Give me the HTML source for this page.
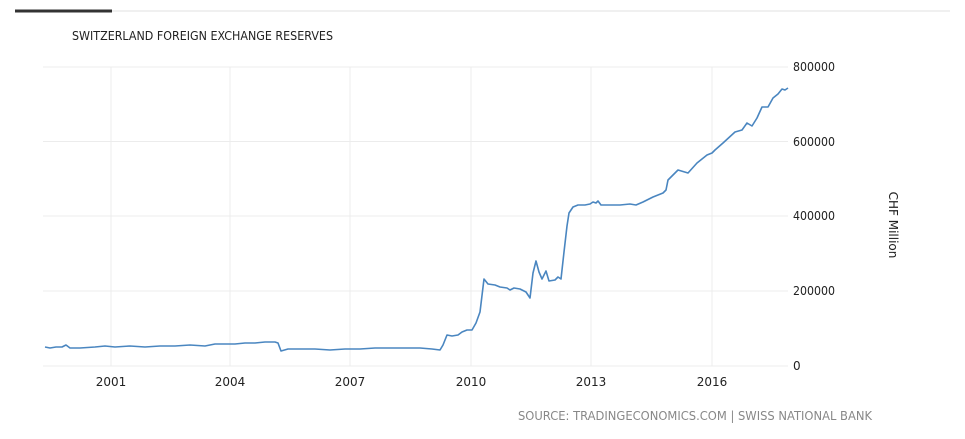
<!DOCTYPE html>
<html><head><style>
body{margin:0;background:#fff;}
svg{display:block;font-family:"DejaVu Sans","Liberation Sans",sans-serif;}
</style></head><body>
<svg width="965" height="439" viewBox="0 0 965 439">
<line x1="15" y1="11" x2="950" y2="11" stroke="#e0e0e0" stroke-width="1"/>
<line x1="15" y1="11" x2="112" y2="11" stroke="#333" stroke-width="3"/>
<text x="72" y="40" font-size="12" fill="#222" textLength="261" lengthAdjust="spacingAndGlyphs">SWITZERLAND FOREIGN EXCHANGE RESERVES</text>
<g stroke="#ececec" stroke-width="1">
<line x1="43" y1="67" x2="788" y2="67"/><line x1="43" y1="141.5" x2="788" y2="141.5"/>
<line x1="43" y1="216" x2="788" y2="216"/><line x1="43" y1="291" x2="788" y2="291"/>
<line x1="43" y1="366" x2="788" y2="366"/>
<line x1="111" y1="67" x2="111" y2="366"/><line x1="230" y1="67" x2="230" y2="366"/>
<line x1="350" y1="67" x2="350" y2="366"/><line x1="471" y1="67" x2="471" y2="366"/>
<line x1="591" y1="67" x2="591" y2="366"/><line x1="712" y1="67" x2="712" y2="366"/>
</g>
<g font-size="12" fill="#222">
<text x="793" y="71" textLength="42" lengthAdjust="spacingAndGlyphs">800000</text><text x="793" y="146" textLength="42" lengthAdjust="spacingAndGlyphs">600000</text>
<text x="793" y="220" textLength="42" lengthAdjust="spacingAndGlyphs">400000</text><text x="793" y="295" textLength="42" lengthAdjust="spacingAndGlyphs">200000</text>
<text x="793" y="370">0</text>
<g text-anchor="middle">
<text x="111" y="386">2001</text><text x="230" y="386">2004</text><text x="350" y="386">2007</text>
<text x="471" y="386">2010</text><text x="591" y="386">2013</text><text x="712" y="386">2016</text>
</g>
<text transform="translate(889,225) rotate(90)" text-anchor="middle">CHF Million</text>
</g>
<text x="518" y="420" font-size="12.5" fill="#888" textLength="354" lengthAdjust="spacingAndGlyphs">SOURCE: TRADINGECONOMICS.COM | SWISS NATIONAL BANK</text>
<polyline fill="none" stroke="#4a86c0" stroke-width="1.6" stroke-linejoin="round" points="
45,347 50,348 56,347 62,347 66,345 70,348 80,348 95,347 105,346 115,347 130,346 145,347 160,346 175,346 190,345 205,346 215,344 225,344 235,344 245,343 255,343 265,342 275,342 278,343 281,351 288,349 300,349 315,349 330,350 345,349 360,349 375,348 390,348 405,348 420,348 432,349 440,350 443,345 447,335 452,336 458,335 462,332 467,330 472,330 476,323 480,312 484,279 488,284 495,285 500,287 507,288 510,290 514,288 520,289 526,292 530,298 533,273 536,261 539,272 542,279 546,271 549,281 555,280 558,277 561,279 564,252 567,226 569,213 573,207 578,205 585,205 590,204 593,202 596,203 598,201 601,205 610,205 620,205 630,204 636,205 643,202 653,197 663,193 666,190 668,180 678,170 688,173 697,163 707,155 712,153 715,150 723,143 735,132 742,130 747,123 752,126 757,118 762,107 768,107 773,98 778,94 782,89 785,90 788,88"/>
</svg>
</body></html>
